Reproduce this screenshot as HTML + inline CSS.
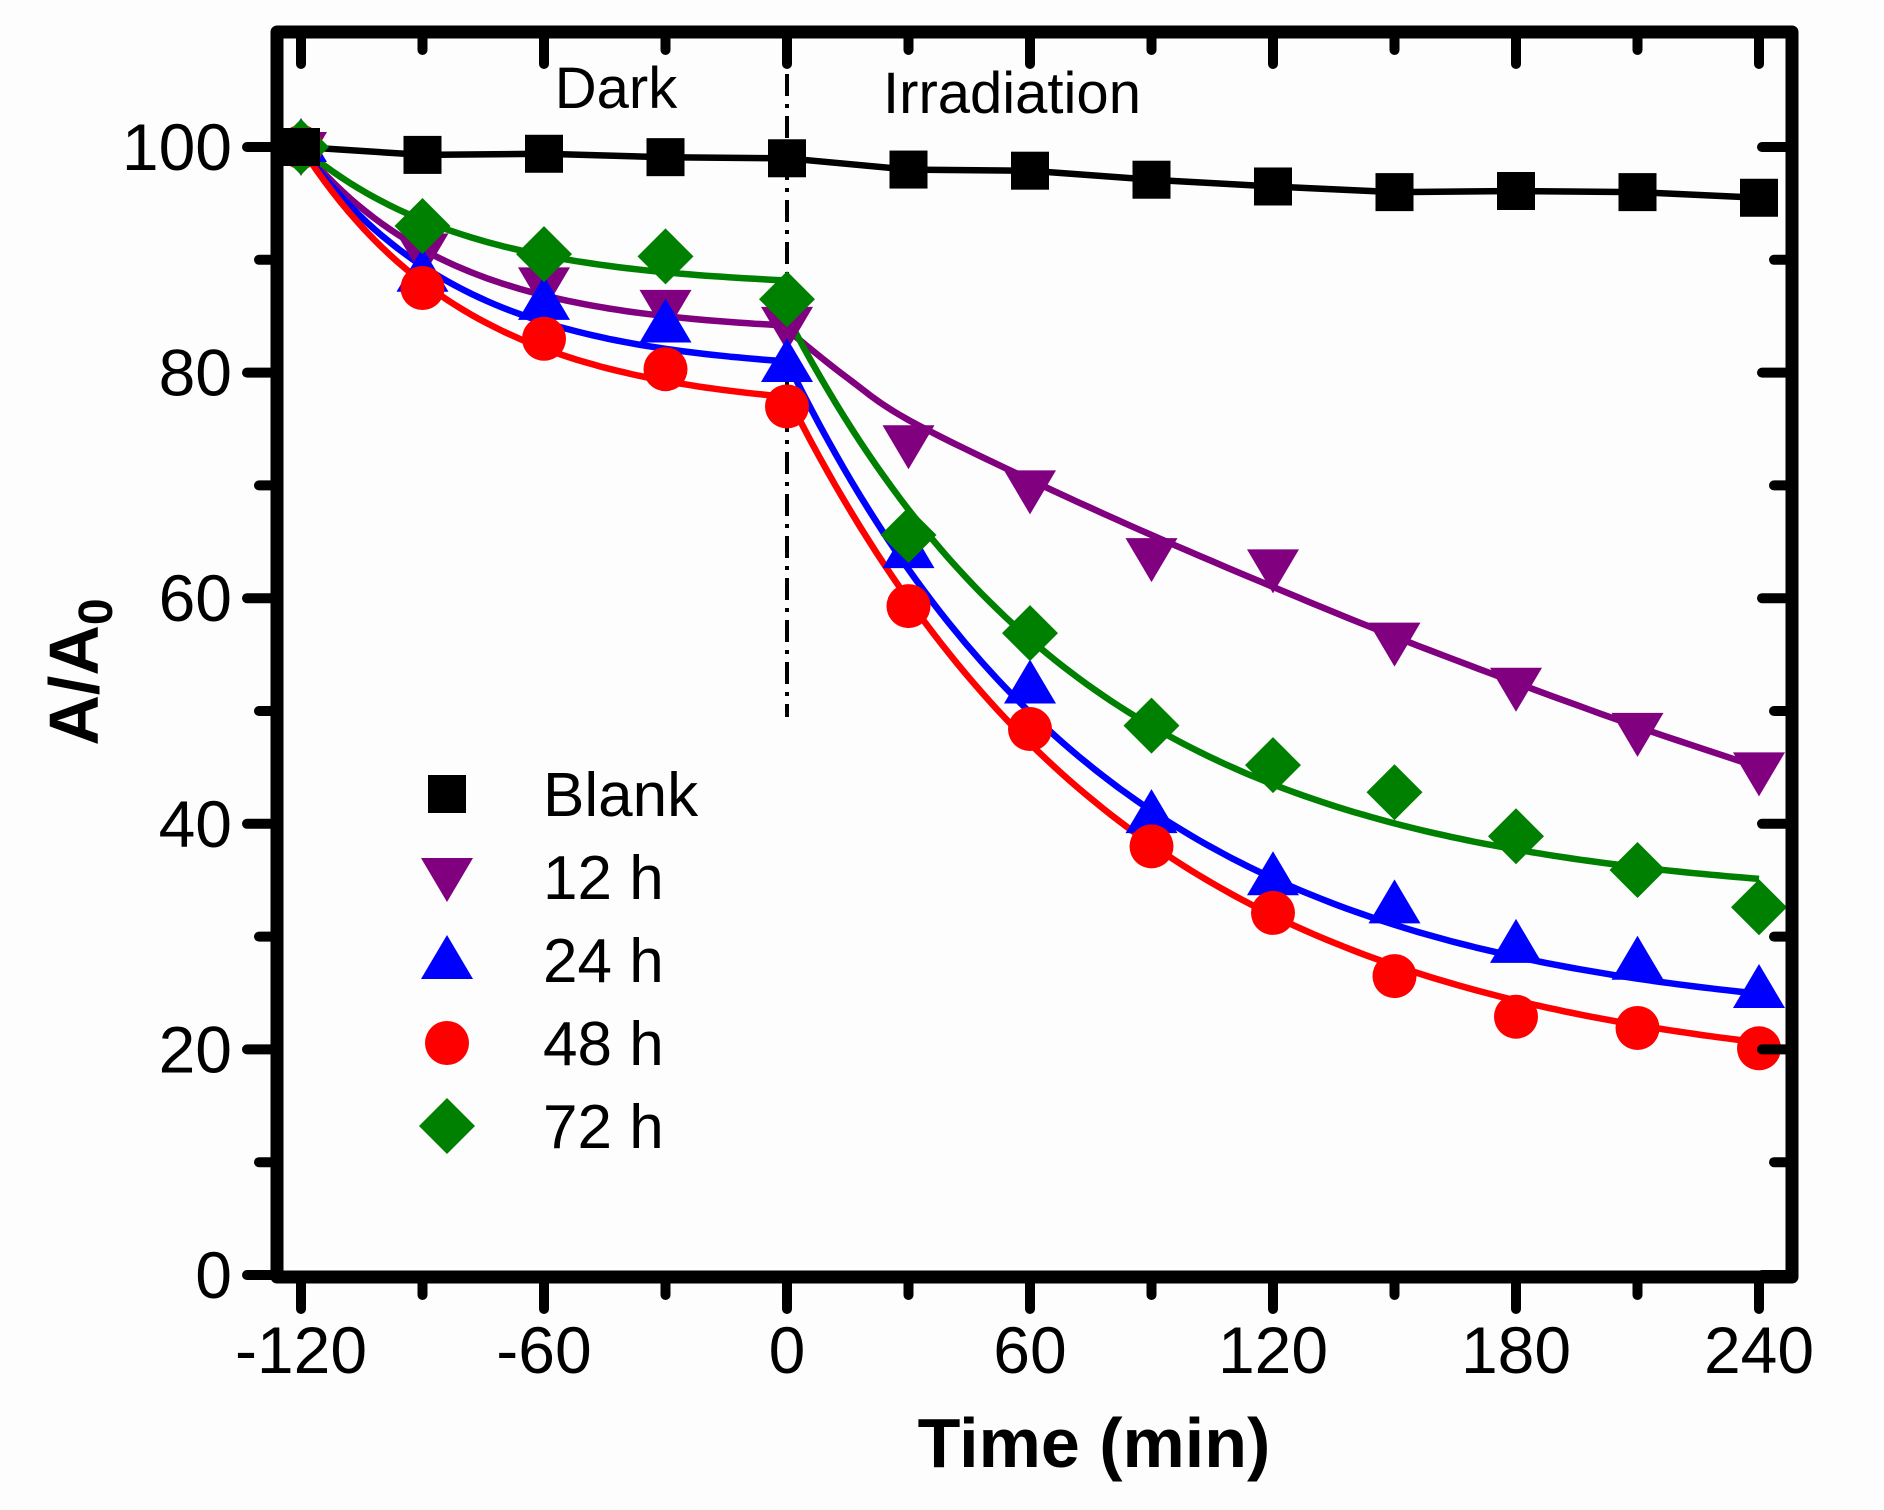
<!DOCTYPE html>
<html><head><meta charset="utf-8">
<style>
html,body{margin:0;padding:0;background:#fdfdfd;}
svg{display:block;}
text{font-family:"Liberation Sans",Arial,sans-serif;fill:#000;}
</style></head>
<body>
<svg id="s" width="1884" height="1510" viewBox="0 0 1884 1510" xmlns="http://www.w3.org/2000/svg">
<rect width="1884" height="1510" fill="#fdfdfd"/>
<g id="g"></g>
<text x="616" y="108" font-size="58" text-anchor="middle">Dark</text>
<text x="1012" y="113" font-size="58" text-anchor="middle">Irradiation</text>
<text x="1094" y="1467" font-size="70" font-weight="bold" text-anchor="middle">Time (min)</text>
<text transform="translate(98,672) rotate(-90)" font-size="70" font-weight="bold" text-anchor="middle">A/A<tspan font-size="48" dy="14">0</tspan></text>
<g font-size="62">
<text x="543" y="816">Blank</text>
<text x="543" y="899">12 h</text>
<text x="543" y="982">24 h</text>
<text x="543" y="1065">48 h</text>
<text x="543" y="1148">72 h</text>
</g>
<g id="lab" font-size="66"></g>
</svg>
<script>
const X=t=>787+t*4.05, Y=v=>1275-v*11.28;
const NS="http://www.w3.org/2000/svg";
const g=document.getElementById('g'), lab=document.getElementById('lab');
function el(tag,attrs,parent){const e=document.createElementNS(NS,tag);for(const k in attrs)e.setAttribute(k,attrs[k]);(parent||g).appendChild(e);return e;}
const L=277,R=1792,T=32,B=1277;
el('line',{x1:X(0),y1:T,x2:X(0),y2:717,stroke:'#000','stroke-width':4,'stroke-dasharray':'22 8 4 8'});
function path(pts,col){el('path',{d:'M'+pts.map(p=>X(p[0]).toFixed(1)+','+Y(p[1]).toFixed(1)).join('L'),fill:'none',stroke:col,'stroke-width':6.5,'stroke-linejoin':'round'});}
function fit(Ad,tauD,A,B2,tau){const p=[];for(let t=-120;t<=0;t+=2)p.push([t,Ad+(100-Ad)*Math.exp(-(t+120)/tauD)]);const q=[];for(let t=0;t<=240;t+=2)q.push([t,A+B2*Math.exp(-t/tau)]);return [p,q];}
const blank=[[-120,100],[-90,99.3],[-60,99.4],[-30,99.1],[0,99],[30,98],[60,97.9],[90,97.1],[120,96.5],[150,96],[180,96.1],[210,96],[240,95.5]];
path(blank,'#000');
let pp=fit(83.5,37.6,0,0,1)[0];path(pp,'#800080');
const pl=[[0,83.8],[15,79.5],[30,75.8],[60,70.5],[90,65.6],[120,61],[150,56.6],[180,52.5],[210,48.6],[240,45]];
function cr(pts){const o=[];for(let i=0;i<pts.length-1;i++){const p0=pts[Math.max(0,i-1)],p1=pts[i],p2=pts[i+1],p3=pts[Math.min(pts.length-1,i+2)];for(let s=0;s<1;s+=0.1){const s2=s*s,s3=s2*s;const f=(a,b,c,d)=>0.5*(2*b+(-a+c)*s+(2*a-5*b+4*c-d)*s2+(-a+3*b-3*c+d)*s3);o.push([f(p0[0],p1[0],p2[0],p3[0]),f(p0[1],p1[1],p2[1],p3[1])]);}}o.push(pts[pts.length-1]);return o;}
path(cr(pl),'#800080');
let b=fit(80,40,22,59,80);path(b[0],'#0000ff');path(b[1],'#0000ff');
let r=fit(76.5,42,17,61,85);path(r[0],'#ff0000');path(r[1],'#ff0000');
let gr=fit(87.5,41,33,52,75);path(gr[0],'#008000');path(gr[1],'#008000');
function sq(x,y,c){el('rect',{x:x-19,y:y-19,width:38,height:38,fill:c});}
function tdn(x,y,c){el('polygon',{points:`${x-26},${y-19} ${x+26},${y-19} ${x},${y+25}`,fill:c});}
function tup(x,y,c){el('polygon',{points:`${x-26},${y+19} ${x+26},${y+19} ${x},${y-25}`,fill:c});}
function ci(x,y,c){el('circle',{cx:x,cy:y,r:22,fill:c});}
function di(x,y,c){el('polygon',{points:`${x-28},${y} ${x},${y-28} ${x+28},${y} ${x},${y+28}`,fill:c});}
const T12=[100,91,88,86,84.5,74,70,64,63,56.5,52.5,48.5,45];
const T24=[100,88.5,86,84,80.5,64,52,40.5,35,32.5,29,27.5,25];
const T48=[100,87.5,83,80.3,77,59.3,48.4,38,32.1,26.5,22.9,21.9,20.1];
const T72=[100,93,90.5,90.3,86.5,65.6,56.9,48.7,45.2,42.8,38.9,35.9,32.6];
for(let i=0;i<13;i++){const t=-120+30*i,x=X(t);
 tdn(x,Y(T12[i])+4,'#800080');tup(x,Y(T24[i])-4,'#0000ff');ci(x,Y(T48[i]),'#ff0000');di(x,Y(T72[i]),'#008000');sq(x,Y(blank[i][1]),'#000');}
sq(447,794,'#000');tdn(447,877,'#800080');tup(447,960,'#0000ff');ci(447,1043,'#ff0000');di(447,1126,'#008000');
el('rect',{x:L,y:T,width:R-L,height:B-T,fill:'none',stroke:'#000','stroke-width':13,'stroke-linejoin':'round'});
for(let v=0;v<=100;v+=10){const y=Y(v),maj=v%20==0,len=maj?30:18;
 el('line',{x1:L,y1:y,x2:L-len,y2:y,stroke:'#000','stroke-width':10,'stroke-linecap':'round'});
 el('line',{x1:R,y1:y,x2:R-len,y2:y,stroke:'#000','stroke-width':10,'stroke-linecap':'round'});
 if(maj){const t=el('text',{x:232,y:y+23,'text-anchor':'end'},lab);t.textContent=v;}}
for(let t=-120;t<=240;t+=30){const x=X(t),maj=t%60==0,len=maj?32:18;
 el('line',{x1:x,y1:B,x2:x,y2:B+len,stroke:'#000','stroke-width':10,'stroke-linecap':'round'});
 el('line',{x1:x,y1:T,x2:x,y2:T+len,stroke:'#000','stroke-width':10,'stroke-linecap':'round'});
 if(maj){const e=el('text',{x:x,y:1373,'text-anchor':'middle'},lab);e.textContent=t;}}
</script>
</body></html>
